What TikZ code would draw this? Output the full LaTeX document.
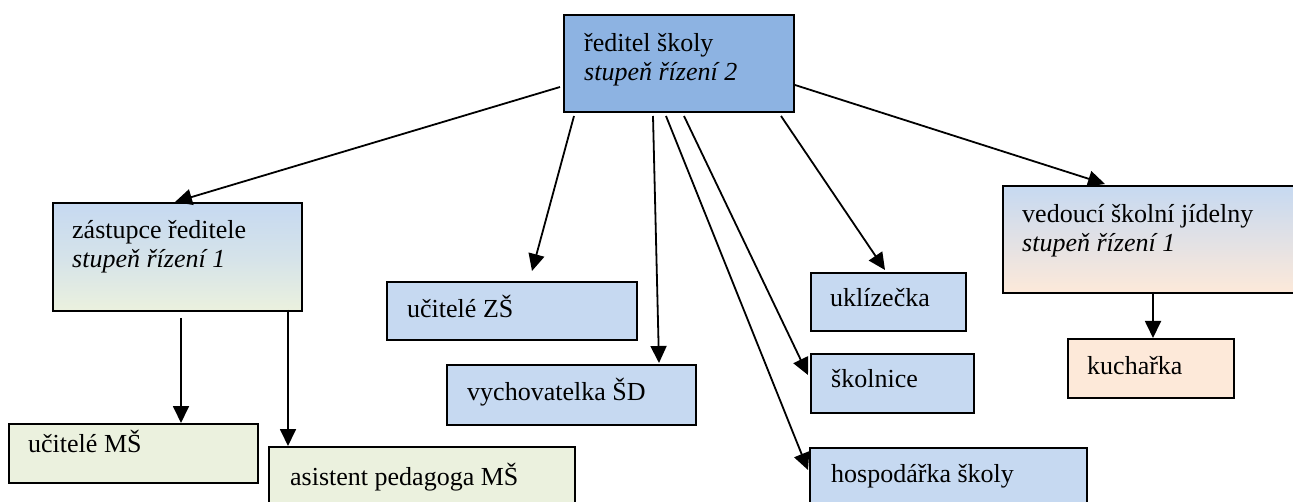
\documentclass[tikz,border=0pt]{standalone}
\usepackage{fontspec}
\setmainfont{LiberationSerif}[Extension=.ttf,UprightFont=*-Regular,ItalicFont=*-Italic,BoldFont=*-Bold,BoldItalicFont=*-BoldItalic]
\usetikzlibrary{arrows.meta,calc}
\definecolor{dirblue}{HTML}{8DB3E2}
\definecolor{lblue}{HTML}{C6D9F1}
\definecolor{lgreen}{HTML}{EBF1DE}
\definecolor{lpeach}{HTML}{FDE9D9}
\begin{document}
\begin{tikzpicture}[x=1pt,y=-1pt,
  box/.style n args={2}{draw=black,line width=1.8pt,anchor=north west,inner sep=0pt,minimum width=#1pt,minimum height=#2pt},
  txt/.style={anchor=base west,inner sep=0pt,font=\rmfamily\fontsize{26}{30}\selectfont},
  itxt/.style={anchor=base west,inner sep=0pt,font=\rmfamily\fontsize{26}{30}\selectfont\itshape},
  arr/.style={line width=1.8pt,-{Triangle[length=17pt,width=16pt]}}]
\useasboundingbox (0,0) rectangle (1293,502);
\clip (0,0) rectangle (1293,502);
% boxes
\node[box={230}{97},fill=dirblue] (dir) at (563,14) {};
\node[box={249}{108},top color=lblue,bottom color=lgreen,middle color=lgreen!40!lblue] (zast) at (52,202) {};
\node[box={298}{107},top color=lblue,bottom color=lpeach,middle color=lpeach!50!lblue] (ved) at (1002,185) {};
\node[box={249}{59},fill=lgreen] (ucms) at (8,423) {};
\node[box={306}{70},fill=lgreen] (asist) at (268,446) {};
\node[box={250}{58},fill=lblue] (uczs) at (386,281) {};
\node[box={249}{60},fill=lblue] (vych) at (446,364) {};
\node[box={155}{58},fill=lblue] (ukl) at (810,272) {};
\node[box={163}{59},fill=lblue] (skol) at (810,353) {};
\node[box={277}{70},fill=lblue] (hosp) at (809,447) {};
\node[box={166}{59},fill=lpeach] (kuch) at (1067,338) {};
% texts
\node[txt] (tdir1) at ([shift={(21,38)}]dir.north west) {ředitel školy};
\node[itxt] (tdir2) at ([shift={(21,67)}]dir.north west) {stupeň řízení 2};
\node[txt] (tzast1) at ([shift={(20,37)}]zast.north west) {zástupce ředitele};
\node[itxt] (tzast2) at ([shift={(20,66)}]zast.north west) {stupeň řízení 1};
\node[txt] (tved1) at ([shift={(20,38)}]ved.north west) {vedoucí školní jídelny};
\node[itxt] (tved2) at ([shift={(20,67)}]ved.north west) {stupeň řízení 1};
\node[txt] (tucms) at ([shift={(20,29)}]ucms.north west) {učitelé MŠ};
\node[txt] (tasist) at ([shift={(22,39)}]asist.north west) {asistent pedagoga MŠ};
\node[txt] (tuczs) at ([shift={(21,37)}]uczs.north west) {učitelé ZŠ};
\node[txt] (tvych) at ([shift={(21,36)}]vych.north west) {vychovatelka ŠD};
\node[txt] (tukl) at ([shift={(20,35)}]ukl.north west) {uklízečka};
\node[txt] (tskol) at ([shift={(21,35)}]skol.north west) {školnice};
\node[txt] (thosp) at ([shift={(22,35)}]hosp.north west) {hospodářka školy};
\node[txt] (tkuch) at ([shift={(20,37)}]kuch.north west) {kuchařka};
% connectors
\draw[arr] ([shift={(-3,73)}]dir.north west) -- ([shift={(123,0)}]zast.north west);
\draw[arr] ([shift={(11,102)}]dir.north west) -- ([shift={(146,-10)}]uczs.north west);
\draw[arr] ([shift={(90,102)}]dir.north west) -- ([shift={(213,-1)}]vych.north west);
\draw[arr] ([shift={(103,102)}]dir.north west) -- ([shift={(-1,23)}]hosp.north west);
\draw[arr] ([shift={(121,102)}]dir.north west) -- ([shift={(-2,22)}]skol.north west);
\draw[arr] ([shift={(218,102)}]dir.north west) -- ([shift={(75,-2)}]ukl.north west);
\draw[arr] ([shift={(232,71)}]dir.north west) -- ([shift={(103,-1)}]ved.north west);
\draw[arr] ([shift={(129,116)}]zast.north west) -- ([shift={(173,0)}]ucms.north west);
\draw[arr] ([shift={(236,108)}]zast.north west) -- ([shift={(20,0)}]asist.north west);
\draw[arr] ([shift={(151,107)}]ved.north west) -- ([shift={(86,0)}]kuch.north west);
\end{tikzpicture}
\end{document}
